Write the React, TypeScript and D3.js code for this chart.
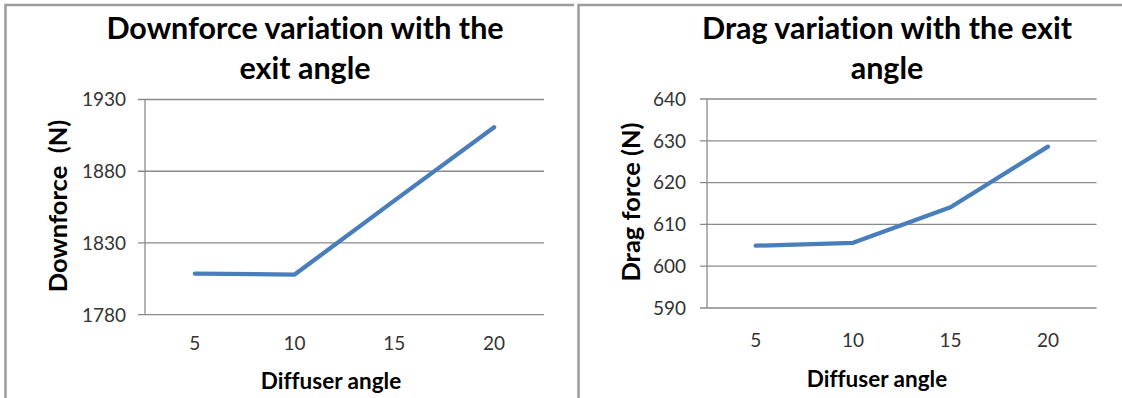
import React from "react";
import * as d3 from "d3";

const categories = ["5", "10", "15", "20"];
const downforceValues = [1808.6, 1808.0, 1859.5, 1910.6];
const dragValues = [604.9, 605.6, 614.1, 628.6];
const downforceTicks = [1780, 1830, 1880, 1930];
const dragTicks = [590, 600, 610, 620, 630, 640];

const FONT = "Lato, 'Open Sans', sans-serif";
const GRID = "#8a8a8a";
const LINE = "#4a7ebb";
const TXT = "#333333";
const NOLIG = { fontVariantLigatures: "none" as const, whiteSpace: "pre" as const };

type PanelProps = {
  titleLines: string[];
  titleX: number;
  yTitle: string;
  yTitleX: number;
  yTitleY: number;
  xTitle: string;
  xTitleX: number;
  xTitleY: number;
  values: number[];
  ticks: number[];
  x0: number;
  x1: number;
  y0: number;
  y1: number;
  xLabelY: number;
  yLabelEnd: number;
};

function Panel(p: PanelProps) {
  const x = d3.scaleBand<string>().domain(categories).range([p.x0, p.x1]);
  const y = d3
    .scaleLinear()
    .domain([p.ticks[0], p.ticks[p.ticks.length - 1]])
    .range([p.y1, p.y0]);
  const line = d3
    .line<number>()
    .x((_, i) => (x(categories[i]) as number) + x.bandwidth() / 2)
    .y((d) => y(d));
  return (
    <g>
      {p.ticks.map((t) => (
        <g key={t}>
          <line x1={p.x0 - 7} x2={p.x1} y1={y(t)} y2={y(t)} stroke={GRID} strokeWidth={1.3} />
          <text
            x={p.yLabelEnd}
            y={y(t)}
            dy="0.36em"
            textAnchor="end"
            fontFamily={FONT}
            fontSize={19}
            fill={TXT}
          >
            {t}
          </text>
        </g>
      ))}
      <line x1={p.x0} x2={p.x0} y1={p.y0} y2={p.y1} stroke={GRID} strokeWidth={1.3} />
      {categories.map((c) => (
        <text
          key={c}
          x={(x(c) as number) + x.bandwidth() / 2}
          y={p.xLabelY}
          textAnchor="middle"
          fontFamily={FONT}
          fontSize={19}
          fill={TXT}
        >
          {c}
        </text>
      ))}
      <path d={line(p.values) || ""} fill="none" stroke={LINE} strokeWidth={4.3} strokeLinecap="round" strokeLinejoin="round" />
      {p.titleLines.map((t, i) => (
        <text
          key={i}
          x={p.titleX}
          y={39 + i * 39.5}
          textAnchor="middle"
          fontFamily={FONT}
          fontWeight="bold"
          fontSize={30.5}
          fill="#000"
          style={NOLIG}
        >
          {t}
        </text>
      ))}
      <text
        transform={`translate(${p.yTitleX},${p.yTitleY}) rotate(-90)`}
        textAnchor="middle"
        fontFamily={FONT}
        fontWeight="bold"
        fontSize={25.5}
        fill="#000"
        style={NOLIG}
      >
        {p.yTitle}
      </text>
      <text
        x={p.xTitleX}
        y={p.xTitleY}
        textAnchor="middle"
        fontFamily={FONT}
        fontWeight="bold"
        fontSize={22.5}
        fill="#000"
        style={NOLIG}
      >
        {p.xTitle}
      </text>
    </g>
  );
}

export default function App() {
  return (
    <svg
      width={1122}
      height={398}
      style={{ position: "absolute", left: 0, top: 0, background: "#fff" }}
    >
      <rect x={0} y={0} width={1122} height={398} fill="#fff" />
      <path d="M5.5,398 V5 H574" fill="none" stroke="#9c9c9c" strokeWidth={2.5} />
      <path d="M578.5,398 V5 H1122" fill="none" stroke="#9c9c9c" strokeWidth={2.5} />
      <Panel
        titleLines={["Downforce variation with the", "exit angle"]}
        titleX={305}
        yTitle={"Downforce  (N)"}
        yTitleX={67}
        yTitleY={206}
        xTitle="Diffuser angle"
        xTitleX={331}
        xTitleY={389}
        values={downforceValues}
        ticks={downforceTicks}
        x0={145}
        x1={544}
        y0={99.5}
        y1={314.7}
        xLabelY={350}
        yLabelEnd={126}
      />
      <Panel
        titleLines={["Drag variation with the exit", "angle"]}
        titleX={887}
        yTitle="Drag force (N)"
        yTitleX={640}
        yTitleY={202}
        xTitle="Diffuser angle"
        xTitleX={877}
        xTitleY={387}
        values={dragValues}
        ticks={dragTicks}
        x0={707}
        x1={1096.6}
        y0={99}
        y1={308}
        xLabelY={347}
        yLabelEnd={686}
      />
    </svg>
  );
}
